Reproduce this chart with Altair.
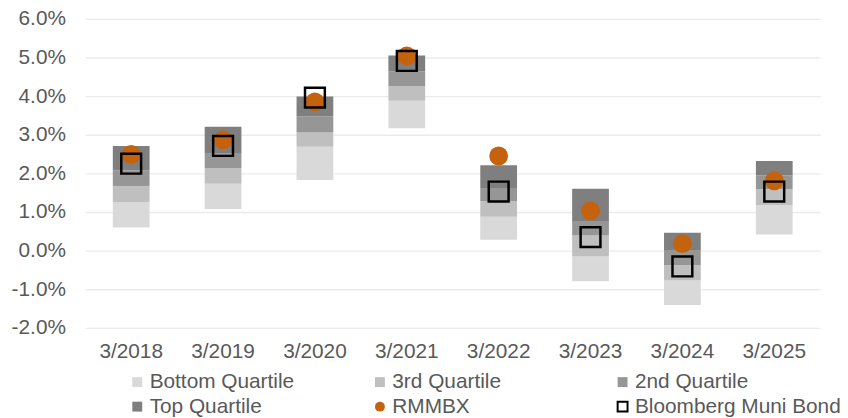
import altair as alt
import pandas as pd

categories = ["3/2018", "3/2019", "3/2020", "3/2021", "3/2022", "3/2023", "3/2024", "3/2025"]

# quartile boundaries (percent)
bottom_lo = [0.60, 1.08, 1.83, 3.17, 0.28, -0.79, -1.41, 0.42]
q3_lo = [1.26, 1.73, 2.69, 3.88, 0.88, -0.15, -0.77, 1.18]
q2_lo = [1.67, 2.14, 3.06, 4.26, 1.28, 0.39, -0.38, 1.59]
top_lo = [2.08, 2.51, 3.47, 4.64, 1.62, 0.77, 0.00, 1.95]
top_hi = [2.71, 3.21, 3.99, 5.05, 2.21, 1.60, 0.46, 2.32]

rmmbx = [2.49, 2.87, 3.85, 5.04, 2.45, 1.03, 0.18, 1.81]
bloomberg = [2.25, 2.71, 3.96, 4.91, 1.53, 0.35, -0.41, 1.53]

y_ticks = [-2, -1, 0, 1, 2, 3, 4, 5, 6]

series_names = ["Bottom Quartile", "3rd Quartile", "2nd Quartile", "Top Quartile",
                "RMMBX", "Bloomberg Muni Bond"]
fill_colors = ["#D9D9D9", "#BFBFBF", "#969696", "#7F7F7F", "#C5620E", "transparent"]
stroke_colors = ["transparent", "transparent", "transparent", "transparent", "transparent", "#000000"]
shapes = ["square", "square", "square", "square", "circle", "square"]

bounds = [bottom_lo, q3_lo, q2_lo, top_lo, top_hi]
bar_rows = []
for i, c in enumerate(categories):
    for k in range(4):
        bar_rows.append({"cat": c, "series": series_names[k],
                         "lo": bounds[k][i] / 100, "hi": bounds[k + 1][i] / 100})
bars_df = pd.DataFrame(bar_rows)

dots_df = pd.DataFrame({"cat": categories, "series": "RMMBX", "v": [v / 100 for v in rmmbx]})
sq_df = pd.DataFrame({"cat": categories, "series": "Bloomberg Muni Bond",
                      "v": [v / 100 for v in bloomberg]})

FONT = "Liberation Sans"
TXT = "#595959"

leg = alt.Legend(title=None, orient="none", legendX=42, legendY=356, columns=3,
                 direction="horizontal",
                 gridAlign="all", columnPadding=14, rowPadding=3, padding=0,
                 labelFontSize=21, labelColor=TXT, labelFont=FONT, labelLimit=300,
                 labelOffset=2, symbolSize=100, symbolStrokeWidth=2, symbolOpacity=1)

fill_scale = alt.Scale(domain=series_names, range=fill_colors)
stroke_scale = alt.Scale(domain=series_names, range=stroke_colors)
shape_scale = alt.Scale(domain=series_names, range=shapes)

x_axis = alt.Axis(labelAngle=0, labelFontSize=21, labelColor=TXT, labelFont=FONT,
                  ticks=False, domain=False, labelPadding=13, grid=False)
x_scale = alt.Scale(paddingInner=0.6, paddingOuter=0.3)
y_scale = alt.Scale(domain=[-0.02, 0.06], nice=False)
y_axis = alt.Axis(values=[t / 100 for t in y_ticks], format=".1%", tickCount=9,
                  labelExpr="replace(datum.label, '\u2212', '-')",
                  labelFontSize=21, labelColor=TXT, labelFont=FONT, ticks=False, domain=False,
                  labelPadding=20, labelOverlap=False, gridColor="#EBEBEB", gridWidth=1.3)

bars = alt.Chart(bars_df).mark_bar().encode(
    x=alt.X("cat:N", sort=categories, title=None, scale=x_scale, axis=x_axis),
    y=alt.Y("lo:Q", scale=y_scale, axis=y_axis, title=None),
    y2="hi:Q",
    fill=alt.Fill("series:N", scale=fill_scale, legend=leg),
)

dots = alt.Chart(dots_df).mark_point(size=361, opacity=1, filled=True).encode(
    x=alt.X("cat:N", sort=categories, title=None, scale=x_scale, axis=x_axis),
    y=alt.Y("v:Q", scale=y_scale, axis=y_axis, title=None),
    fill=alt.Fill("series:N", scale=fill_scale, legend=leg),
    stroke=alt.Stroke("series:N", scale=stroke_scale, legend=leg),
    shape=alt.Shape("series:N", scale=shape_scale, legend=leg),
)

squares = alt.Chart(sq_df).mark_point(size=400, opacity=1, strokeWidth=2.5).encode(
    x=alt.X("cat:N", sort=categories, title=None, scale=x_scale, axis=x_axis),
    y=alt.Y("v:Q", scale=y_scale, axis=y_axis, title=None),
    fill=alt.Fill("series:N", scale=fill_scale, legend=leg),
    stroke=alt.Stroke("series:N", scale=stroke_scale, legend=leg),
    shape=alt.Shape("series:N", scale=shape_scale, legend=leg),
)

chart = alt.layer(bars, dots, squares).properties(
    width=742, height=312,
    autosize=alt.AutoSizeParams(type="none"),
    padding={"left": 78, "top": 9, "right": 20, "bottom": 90},
).configure_view(stroke=None)

chart.save("out.html", embed_options={"renderer": "svg", "actions": False})
